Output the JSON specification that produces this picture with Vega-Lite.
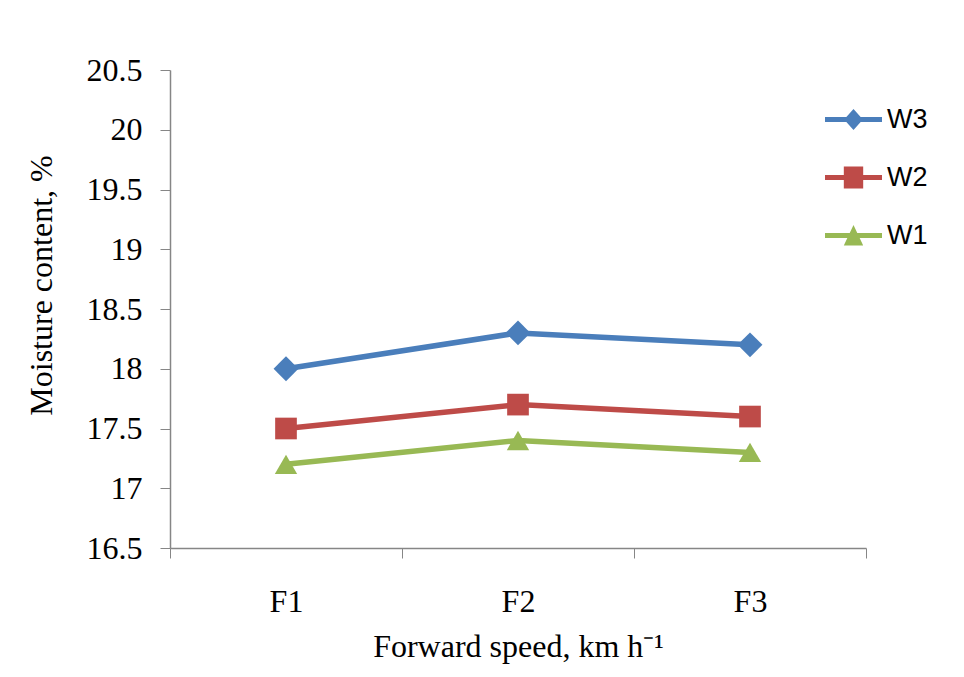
{
  "$schema": "https://vega.github.io/schema/vega-lite/v6.json",
  "width": 696,
  "height": 478,
  "autosize": {"type": "none"},
  "padding": {"left": 170, "top": 70, "right": 98, "bottom": 129},
  "background": "white",
  "config": {
    "view": {"stroke": null},
    "font": "Liberation Serif"
  },
  "data": {
    "values": [
      {"speed": "F1", "series": "W3", "moisture": 18.0},
      {"speed": "F2", "series": "W3", "moisture": 18.3},
      {"speed": "F3", "series": "W3", "moisture": 18.2},
      {"speed": "F1", "series": "W2", "moisture": 17.5},
      {"speed": "F2", "series": "W2", "moisture": 17.7},
      {"speed": "F3", "series": "W2", "moisture": 17.6},
      {"speed": "F1", "series": "W1", "moisture": 17.2},
      {"speed": "F2", "series": "W1", "moisture": 17.4},
      {"speed": "F3", "series": "W1", "moisture": 17.3}
    ]
  },
  "encoding": {
    "x": {
      "field": "speed",
      "type": "nominal",
      "scale": {"type": "band", "paddingInner": 0, "paddingOuter": 0},
      "axis": {
        "title": "Forward speed, km h⁻¹",
        "labelAngle": 0,
        "labelFont": "Liberation Serif",
        "labelFontSize": 32,
        "labelColor": "black",
        "labelPadding": 28,
        "tickBand": "extent",
        "tickSize": 10,
        "tickColor": "#868686",
        "domainColor": "#868686",
        "domainWidth": 1.5,
        "titleFont": "Liberation Serif",
        "titleFontSize": 32,
        "titleFontWeight": "normal",
        "titleColor": "black",
        "titlePadding": 14
      }
    },
    "y": {
      "field": "moisture",
      "type": "quantitative",
      "scale": {"domain": [16.5, 20.5], "nice": false, "zero": false},
      "axis": {
        "title": "Moisture content, %",
        "values": [16.5, 17, 17.5, 18, 18.5, 19, 19.5, 20, 20.5],
        "format": ".1~f",
        "grid": false,
        "labelFont": "Liberation Serif",
        "labelFontSize": 32,
        "labelColor": "black",
        "labelPadding": 18,
        "tickSize": 10,
        "tickColor": "#868686",
        "domainColor": "#868686",
        "domainWidth": 1.5,
        "titleFont": "Liberation Serif",
        "titleFontSize": 32,
        "titleFontWeight": "normal",
        "titleColor": "black",
        "titlePadding": 28,
        "titleY": 215
      }
    },
    "color": {
      "field": "series",
      "type": "nominal",
      "scale": {"domain": ["W3", "W2", "W1"], "range": ["#4A7EBB", "#BE4B48", "#98B954"]},
      "legend": {
        "title": null,
        "orient": "none",
        "legendX": 655,
        "legendY": 21,
        "symbolSize": 3249,
        "symbolStrokeWidth": 0,
        "symbolOpacity": 1,
        "rowPadding": 16,
        "labelFont": "Liberation Sans",
        "labelFontSize": 27,
        "labelColor": "black",
        "labelOffset": 5,
        "encode": {
          "symbols": {
            "update": {
              "shape": {"signal": "datum.value === 'W3' ? 'M-1,-0.09H1V0.09H-1Z M0,-0.37L0.33,0L0,0.37L-0.33,0Z' : datum.value === 'W2' ? 'M-1,-0.09H1V0.09H-1Z M-0.34,-0.39H0.34V0.39H-0.34Z' : 'M-1,-0.09H1V0.09H-1Z M0,-0.37L0.34,0.35L-0.34,0.35Z'"},
              "size": {"value": 3249},
              "fill": {"scale": "color", "field": "value"},
              "fillOpacity": {"value": 1},
              "strokeWidth": {"value": 0}
            }
          }
        }
      }
    }
  },
  "layer": [
    {
      "mark": {"type": "line", "strokeWidth": 5.5}
    },
    {
      "transform": [{"filter": "datum.series === 'W3'"}],
      "mark": {"type": "point", "filled": true, "opacity": 1, "shape": "diamond", "size": 620}
    },
    {
      "transform": [{"filter": "datum.series === 'W2'"}],
      "mark": {"type": "point", "filled": true, "opacity": 1, "shape": "square", "size": 470}
    },
    {
      "transform": [{"filter": "datum.series === 'W1'"}],
      "mark": {"type": "point", "filled": true, "opacity": 1, "shape": "triangle-up", "size": 500}
    }
  ]
}
